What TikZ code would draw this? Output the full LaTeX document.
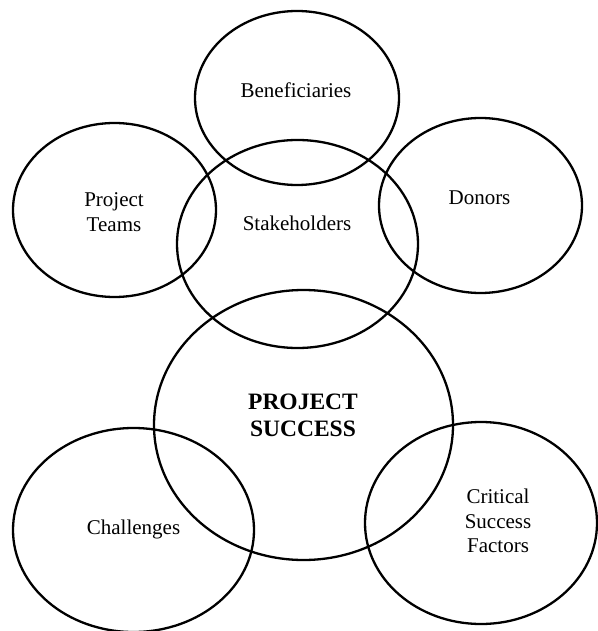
\documentclass[tikz,border=0pt]{standalone}
\usepackage{fontspec}
\setmainfont{Liberation Serif}
\usetikzlibrary{shapes.geometric}

\begin{document}
\begin{tikzpicture}[x=1pt, y=-1pt,
    bubble/.style={ellipse, draw, line width=2.3pt, inner sep=0pt},
    word/.style={align=center, inner sep=0pt, font=\fontsize{21}{24.5}\selectfont},
    bigword/.style={align=center, inner sep=0pt, font=\fontsize{23.5}{27}\selectfont\bfseries}]
  \useasboundingbox (0,0) rectangle (597,631);
  \node[bubble, minimum width=204pt, minimum height=174pt] (benef) at (297,98) {};
  \node[bubble, minimum width=203pt, minimum height=174pt] (teams) at (114.5,210) {};
  \node[bubble, minimum width=241pt, minimum height=208pt] (stake) at (297.5,244) {};
  \node[bubble, minimum width=203pt, minimum height=175pt] (donors) at (480.5,205.5) {};
  \node[bubble, minimum width=299pt, minimum height=270pt] (success) at (303.5,425) {};
  \node[bubble, minimum width=241pt, minimum height=204pt] (chall) at (133.5,530) {};
  \node[bubble, minimum width=232pt, minimum height=202pt] (csf) at (481,523) {};
  \node[word] (benefText) at (296,90) {Beneficiaries};
  \node[word] (teamsText) at (114,212) {Project\\Teams};
  \node[word] (stakeText) at (297,223) {Stakeholders};
  \node[word] (donorsText) at (479.5,198) {Donors};
  \node[bigword] (successText) at (303,415) {PROJECT\\SUCCESS};
  \node[word] (challText) at (133.5,529) {Challenges};
  \node[word] (csfText) at (498,521) {Critical\\Success\\Factors};
\end{tikzpicture}
\end{document}
